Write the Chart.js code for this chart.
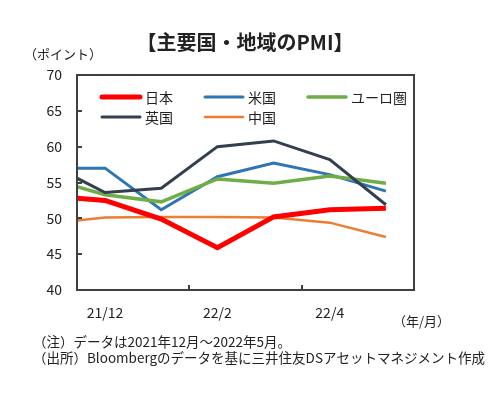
<!DOCTYPE html>
<html><head><meta charset="utf-8">
<script src="https://cdn.jsdelivr.net/npm/chart.js@4"></script>
<style>html,body{margin:0;padding:0;background:#fff}#wrap{width:504px;height:394px}</style>
</head><body><div id="wrap"><canvas id="c" width="504" height="394"></canvas></div>
<script>
const monthIndex = [-0.5, 0, 1, 2, 3, 4, 5];
const tickLabels = ['21/12', '22/2', '22/4'];
const tickValues = [0, 2, 4];
const japan  = [52.8, 52.5, 49.9, 45.9, 50.2, 51.2, 51.4];
const us     = [57.0, 57.0, 51.2, 55.8, 57.7, 56.1, 53.8];
const euro   = [54.4, 53.3, 52.3, 55.5, 54.9, 55.9, 54.9];
const uk     = [55.6, 53.6, 54.2, 60.0, 60.8, 58.2, 51.9];
const china  = [49.7, 50.1, 50.2, 50.2, 50.1, 49.4, 47.4];
const seriesNames = ['日本', '米国', 'ユーロ圏', '英国', '中国'];

const JP = '"Noto Sans CJK JP", "Noto Sans", sans-serif';
const pts = arr => arr.map((v, i) => ({x: monthIndex[i], y: v}));

const styles = [
  {color: '#FF0000', width: 5, order: 0},
  {color: '#2E75B6', width: 3, order: 3},
  {color: '#70AD47', width: 3.5, order: 2},
  {color: '#333F50', width: 3, order: 1},
  {color: '#ED7D31', width: 2.5, order: 4}
];
const allData = [japan, us, euro, uk, china];

const decor = {
  id: 'decor',
  afterDatasetsDraw(chart) {
    const ctx = chart.ctx, a = chart.chartArea;
    const xs = chart.scales.x, ys = chart.scales.y;
    ctx.save();
    ctx.strokeStyle = '#404040'; ctx.lineWidth = 2;
    ctx.strokeRect(a.left, a.top, a.right - a.left, a.bottom - a.top);
    for (let v = 45; v <= 65; v += 5) {
      const y = Math.round(ys.getPixelForValue(v));
      ctx.beginPath(); ctx.moveTo(a.left, y); ctx.lineTo(a.left + 5, y); ctx.stroke();
    }
    [1.5, 3.5].forEach(v => {
      const x = Math.round(xs.getPixelForValue(v));
      ctx.beginPath(); ctx.moveTo(x, a.bottom); ctx.lineTo(x, a.bottom - 5); ctx.stroke();
    });
    const items = [
      {i: 0, x: 102, y: 97}, {i: 1, x: 205, y: 97}, {i: 2, x: 308, y: 97},
      {i: 3, x: 102, y: 117}, {i: 4, x: 205, y: 117}
    ];
    ctx.font = '14px ' + JP; ctx.textBaseline = 'middle'; ctx.textAlign = 'left';
    items.forEach(it => {
      const s = styles[it.i];
      ctx.strokeStyle = s.color; ctx.lineWidth = s.width; ctx.lineCap = 'round';
      ctx.beginPath(); ctx.moveTo(it.x, it.y); ctx.lineTo(it.x + 38, it.y); ctx.stroke();
      ctx.fillStyle = '#222';
      ctx.fillText(seriesNames[it.i], it.x + 43, it.y + 1);
    });
    ctx.restore();
  },
  afterDraw(chart) {
    const ctx = chart.ctx;
    ctx.save();
    ctx.fillStyle = '#222';
    ctx.textBaseline = 'middle';
    ctx.textAlign = 'center';
    ctx.font = 'bold 20px ' + JP;
    ctx.fillText('【主要国・地域のPMI】', 245, 42);
    ctx.textAlign = 'left';
    ctx.font = '13px ' + JP;
    ctx.fillText('（ポイント）', 24, 54);
    ctx.fillText('（年/月）', 393, 321);
    ctx.font = '13.5px ' + JP;
    ctx.fillText('（注）データは2021年12月～2022年5月。', 33, 342);
    ctx.fillText('（出所）Bloombergのデータを基に三井住友DSアセットマネジメント作成', 33, 358);
    ctx.restore();
  }
};

new Chart(document.getElementById('c'), {
  type: 'line',
  data: {
    datasets: allData.map((d, i) => ({
      label: seriesNames[i],
      data: pts(d),
      borderColor: styles[i].color,
      backgroundColor: styles[i].color,
      borderWidth: styles[i].width,
      order: styles[i].order,
      pointRadius: 0,
      tension: 0,
      fill: false
    }))
  },
  options: {
    responsive: false,
    animation: false,
    devicePixelRatio: 1,
    layout: {padding: {left: 0, right: 90, top: 75, bottom: 0}},
    plugins: {legend: {display: false}, tooltip: {enabled: false}, title: {display: false}},
    scales: {
      x: {
        type: 'linear', min: -0.5, max: 5.5,
        grid: {display: false, drawTicks: false},
        border: {display: false},
        afterBuildTicks: s => { s.ticks = tickValues.map(v => ({value: v})); },
        afterFit: s => { s.height = 104; },
        ticks: {
          padding: 14, maxRotation: 0, autoSkip: false,
          color: '#222', font: {size: 14, family: JP},
          callback: (v) => { const k = tickValues.indexOf(v); return k >= 0 ? tickLabels[k] : ''; }
        }
      },
      y: {
        min: 40, max: 70,
        grid: {display: false, drawTicks: false},
        border: {display: false},
        afterFit: s => { s.width = 77; },
        ticks: {stepSize: 5, padding: 15, color: '#222', font: {size: 14, family: JP}}
      }
    }
  },
  plugins: [decor]
});
</script></body></html>
